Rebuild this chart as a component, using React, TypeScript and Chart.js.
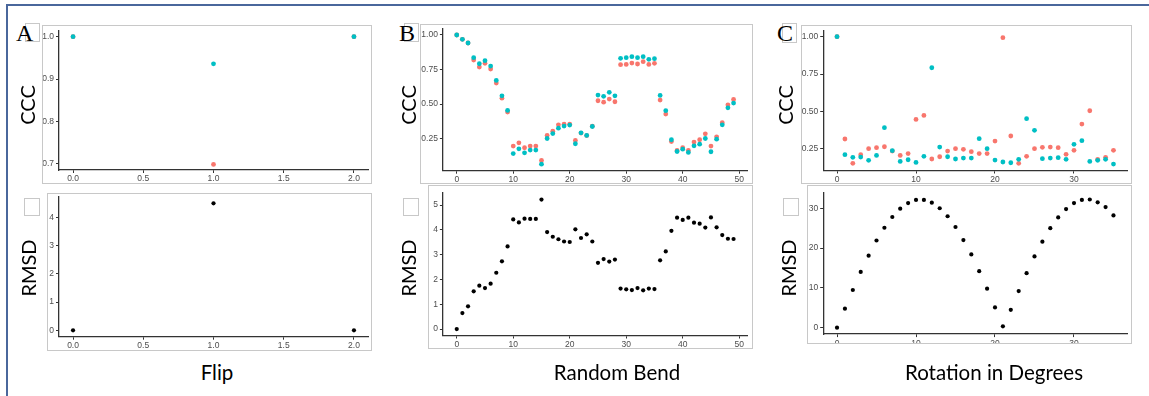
import React, { useEffect, useRef } from "react";
import { Chart, registerables } from "chart.js";
Chart.register(...registerables);

const TEAL = "#00BFC4";
const RED = "#F8766D";
const BLACK = "#000000";

// ---- Panel A: Flip ----
const flipX = [0, 1, 2];
const flipCccTeal = [1.0, 0.936, 1.0];
const flipCccRed = [1.0, 0.699, 1.0];
const flipRmsd = [0, 4.5, 0];
const flipXTicks = [0, 0.5, 1, 1.5, 2];
const flipCccTicks = [0.7, 0.8, 0.9, 1.0];
const flipRmsdTicks = [0, 1, 2, 3, 4];

// ---- Panel B: Random Bend ----
const bendCccTeal = [
  1.0, 0.969, 0.942, 0.836, 0.792, 0.814, 0.775, 0.671, 0.56, 0.454,
  0.142, 0.176, 0.147, 0.167, 0.167, 0.065, 0.251, 0.287, 0.326, 0.341,
  0.348, 0.213, 0.292, 0.273, 0.338, 0.565, 0.556, 0.585, 0.56, 0.831,
  0.836, 0.843, 0.836, 0.843, 0.824, 0.829, 0.563, 0.452, 0.242, 0.157,
  0.174, 0.15, 0.198, 0.21, 0.251, 0.155, 0.246, 0.35, 0.473, 0.507,
];
const bendCccRed = [
  1.0, 0.969, 0.942, 0.819, 0.768, 0.795, 0.754, 0.652, 0.543, 0.442,
  0.196, 0.22, 0.184, 0.196, 0.196, 0.092, 0.273, 0.304, 0.35, 0.355,
  0.355, 0.237, 0.29, 0.272, 0.34, 0.524, 0.514, 0.536, 0.517, 0.785,
  0.787, 0.797, 0.79, 0.807, 0.787, 0.795, 0.529, 0.428, 0.229, 0.164,
  0.184, 0.164, 0.225, 0.242, 0.285, 0.196, 0.263, 0.365, 0.495, 0.534,
];
const bendRmsd = [
  0, 0.645, 0.914, 1.519, 1.747, 1.653, 1.828, 2.27, 2.73, 3.33,
  4.42, 4.3, 4.45, 4.44, 4.44, 5.22, 3.91, 3.72, 3.62, 3.53,
  3.51, 4.02, 3.67, 3.82, 3.53, 2.67, 2.82, 2.72, 2.8, 1.63,
  1.6, 1.57, 1.65, 1.56, 1.63, 1.61, 2.77, 3.13, 3.96, 4.49,
  4.4, 4.49, 4.29, 4.25, 4.09, 4.5, 4.1, 3.79, 3.64, 3.63,
];
const bendXTicks = [0, 10, 20, 30, 40, 50];
const bendCccTicks = [0.25, 0.5, 0.75, 1.0];
const bendRmsdTicks = [0, 1, 2, 3, 4, 5];

// ---- Panel C: Rotation in Degrees ----
const rotCccTeal = [
  1.0, 0.21, 0.192, 0.194, 0.172, 0.205, 0.391, 0.237, 0.165, 0.176,
  0.158, 0.199, 0.792, 0.261, 0.196, 0.181, 0.187, 0.187, 0.317, 0.25,
  0.174, 0.161, 0.156, 0.179, 0.451, 0.373, 0.183, 0.187, 0.19, 0.179,
  0.279, 0.304, 0.165, 0.172, 0.179, 0.147,
];
const rotCccRed = [
  1.0, 0.315, 0.152, 0.21, 0.25, 0.257, 0.263, 0.234, 0.205, 0.217,
  0.446, 0.473, 0.181, 0.196, 0.234, 0.25, 0.246, 0.23, 0.217, 0.217,
  0.301, 0.993, 0.335, 0.152, 0.199, 0.25, 0.259, 0.261, 0.257, 0.212,
  0.239, 0.415, 0.504, 0.179, 0.192, 0.239,
];
const rotRmsd = [
  0, 4.78, 9.47, 14.0, 18.1, 21.9, 25.1, 27.8, 29.9, 31.3,
  32.1, 32.1, 31.4, 30.0, 28.0, 25.3, 22.0, 18.4, 14.2, 9.8,
  5.1, 0.34, 4.5, 9.2, 13.7, 17.9, 21.6, 25.0, 27.7, 29.8,
  31.3, 32.1, 32.2, 31.5, 30.3, 28.2,
];
const rotXTicks = [0, 10, 20, 30];
const rotCccTicks = [0.25, 0.5, 0.75, 1.0];
const rotRmsdTicks = [0, 10, 20, 30];

type Rect = { l: number; t: number; r: number; b: number };

const pts = (ys: number[], xs?: number[]) =>
  ys.map((y, i) => ({ x: xs ? xs[i] : i, y }));

const ds = (data: { x: number; y: number }[], color: string, radius = 2.4) => ({
  data,
  backgroundColor: color,
  borderColor: color,
  pointRadius: radius,
  pointBorderWidth: 0,
  showLine: false,
});

type PanelProps = {
  box: Rect;
  area: Rect;
  datasets: any[];
  xRange: [number, number];
  yRange: [number, number];
  xTicks: number[];
  yTicks: number[];
  xDec: number;
  yDec: number;
};

function Panel({ box, area, datasets, xRange, yRange, xTicks, yTicks, xDec, yDec }: PanelProps) {
  const ref = useRef<HTMLCanvasElement>(null);
  const w = box.r - box.l;
  const h = box.b - box.t;
  useEffect(() => {
    if (!ref.current) return;
    const tickFont = { family: "'Liberation Sans', Arial, sans-serif", size: 8.5 };
    const axisCommon = {
      type: "linear" as const,
      grid: {
        display: true,
        drawOnChartArea: false,
        drawTicks: true,
        tickLength: 3,
        color: "#333333",
        lineWidth: 1,
      },
      border: { display: true, color: "#333333", width: 1.3 },
    };
    const chart = new Chart(ref.current, {
      type: "scatter",
      data: { datasets },
      options: {
        responsive: false,
        animation: false,
        devicePixelRatio: 1,
        layout: {
          padding: { left: 0, top: area.t - box.t, right: box.r - area.r, bottom: 0 },
        },
        plugins: { legend: { display: false }, tooltip: { enabled: false } },
        scales: {
          x: {
            ...axisCommon,
            min: xRange[0],
            max: xRange[1],
            afterBuildTicks: (s: any) => {
              s.ticks = xTicks.map((v) => ({ value: v }));
            },
            afterFit: (s: any) => {
              s.height = box.b - area.b;
              s.paddingLeft = 0;
              s.paddingRight = 0;
            },
            ticks: {
              autoSkip: false,
              maxRotation: 0,
              padding: 1,
              color: "#4d4d4d",
              font: tickFont,
              callback: (v: any) => Number(v).toFixed(xDec),
            },
          },
          y: {
            ...axisCommon,
            min: yRange[0],
            max: yRange[1],
            afterBuildTicks: (s: any) => {
              s.ticks = yTicks.map((v) => ({ value: v }));
            },
            afterFit: (s: any) => {
              s.width = area.l - box.l;
              s.paddingTop = 0;
              s.paddingBottom = 0;
            },
            ticks: {
              autoSkip: false,
              padding: 2,
              color: "#4d4d4d",
              font: tickFont,
              callback: (v: any) => Number(v).toFixed(yDec),
            },
          },
        },
      } as any,
    });
    return () => chart.destroy();
  }, []);
  return (
    <>
      <canvas
        ref={ref}
        width={w}
        height={h}
        style={{ position: "absolute", left: box.l, top: box.t, width: w, height: h }}
      />
      <div
        style={{
          position: "absolute",
          left: box.l,
          top: box.t,
          width: w,
          height: h,
          border: "1px solid #c8c8c8",
          boxSizing: "border-box",
          pointerEvents: "none",
        }}
      />
    </>
  );
}

const titleFont = "Lato, 'Open Sans', sans-serif";

function VText({ cx, cy, text }: { cx: number; cy: number; text: string }) {
  return (
    <div
      style={{
        position: "absolute",
        left: cx,
        top: cy,
        transform: "translate(-50%, -50%) rotate(-90deg)",
        fontFamily: titleFont,
        fontSize: 20,
        color: "#000",
        whiteSpace: "nowrap",
        lineHeight: 1,
      }}
    >
      {text}
    </div>
  );
}

function HText({ cx, cy, text }: { cx: number; cy: number; text: string }) {
  return (
    <div
      style={{
        position: "absolute",
        left: cx,
        top: cy,
        transform: "translate(-50%, -50%)",
        fontFamily: titleFont,
        fontSize: 20.5,
        color: "#000",
        whiteSpace: "nowrap",
        lineHeight: 1,
      }}
    >
      {text}
    </div>
  );
}

function SmallBox({ l, t, w, h }: { l: number; t: number; w: number; h: number }) {
  return (
    <div
      style={{
        position: "absolute",
        left: l,
        top: t,
        width: w,
        height: h,
        border: "1px solid #c8c8c8",
        boxSizing: "border-box",
        background: "#fff",
      }}
    />
  );
}

function Letter({ l, t, text }: { l: number; t: number; text: string }) {
  return (
    <div
      style={{
        position: "absolute",
        left: l,
        top: t,
        fontFamily: "'Liberation Serif', 'Times New Roman', serif",
        fontSize: 24,
        lineHeight: 1,
        color: "#000",
      }}
    >
      {text}
    </div>
  );
}

export default function App() {
  return (
    <div
      style={{
        position: "absolute",
        left: 0,
        top: 0,
        width: 1149,
        height: 396,
        background: "#fff",
        overflow: "hidden",
      }}
    >
      {/* blue frame */}
      <div style={{ position: "absolute", left: 6, top: 4, width: 1143, height: 2, background: "#4a679c" }} />
      <div style={{ position: "absolute", left: 6, top: 4, width: 2, height: 392, background: "#4a679c" }} />

      {/* Panel A */}
      <SmallBox l={25} t={23} w={15} h={19} />
      <Letter l={16} t={21} text="A" />
      <Panel
        box={{ l: 42, t: 25, r: 372, b: 184 }}
        area={{ l: 59, t: 30.3, r: 368, b: 170 }}
        datasets={[ds(pts(flipCccTeal, flipX), TEAL), ds(pts(flipCccRed, flipX), RED)]}
        xRange={[-0.1, 2.1]}
        yRange={[0.6858, 1.015]}
        xTicks={flipXTicks}
        yTicks={flipCccTicks}
        xDec={1}
        yDec={1}
      />
      <SmallBox l={24} t={198} w={16} h={18} />
      <Panel
        box={{ l: 47, t: 193, r: 372, b: 351 }}
        area={{ l: 59, t: 196.8, r: 368, b: 336.7 }}
        datasets={[ds(pts(flipRmsd, flipX), BLACK, 2.1)]}
        xRange={[-0.1, 2.1]}
        yRange={[-0.225, 4.725]}
        xTicks={flipXTicks}
        yTicks={flipRmsdTicks}
        xDec={1}
        yDec={0}
      />
      <VText cx={27} cy={105} text="CCC" />
      <VText cx={28} cy={268} text="RMSD" />
      <HText cx={217} cy={372} text="Flip" />

      {/* Panel B */}
      <SmallBox l={404} t={23} w={15} h={19} />
      <Letter l={399} t={21} text="B" />
      <Panel
        box={{ l: 420, t: 24, r: 753, b: 184 }}
        area={{ l: 442.9, t: 28.5, r: 747.4, b: 170.7 }}
        datasets={[ds(pts(bendCccTeal), TEAL), ds(pts(bendCccRed), RED)]}
        xRange={[-2.45, 51.45]}
        yRange={[0.018, 1.047]}
        xTicks={bendXTicks}
        yTicks={bendCccTicks}
        xDec={0}
        yDec={2}
      />
      <SmallBox l={403} t={198} w={16} h={18} />
      <Panel
        box={{ l: 428, t: 185, r: 753, b: 349 }}
        area={{ l: 442.9, t: 193.1, r: 747.4, b: 335.5 }}
        datasets={[ds(pts(bendRmsd), BLACK, 2.1)]}
        xRange={[-2.45, 51.45]}
        yRange={[-0.261, 5.481]}
        xTicks={bendXTicks}
        yTicks={bendRmsdTicks}
        xDec={0}
        yDec={0}
      />
      <VText cx={408} cy={105} text="CCC" />
      <VText cx={408} cy={268} text="RMSD" />
      <HText cx={617} cy={372} text="Random Bend" />

      {/* Panel C */}
      <SmallBox l={782} t={23} w={15} h={20} />
      <Letter l={777} t={21} text="C" />
      <Panel
        box={{ l: 801, t: 25, r: 1132, b: 184 }}
        area={{ l: 823.2, t: 30.3, r: 1127.3, b: 170.5 }}
        datasets={[ds(pts(rotCccTeal), TEAL), ds(pts(rotCccRed), RED)]}
        xRange={[-1.75, 36.75]}
        yRange={[0.104, 1.0427]}
        xTicks={rotXTicks}
        yTicks={rotCccTicks}
        xDec={0}
        yDec={2}
      />
      <SmallBox l={783} t={198} w={16} h={18} />
      <Panel
        box={{ l: 807, t: 185, r: 1132, b: 344 }}
        area={{ l: 823.2, t: 193.1, r: 1127.3, b: 334.1 }}
        datasets={[ds(pts(rotRmsd), BLACK, 2.1)]}
        xRange={[-1.75, 36.75]}
        yRange={[-1.61, 33.81]}
        xTicks={rotXTicks}
        yTicks={rotRmsdTicks}
        xDec={0}
        yDec={0}
      />
      <VText cx={785} cy={105} text="CCC" />
      <VText cx={788} cy={268} text="RMSD" />
      <HText cx={994} cy={372} text="Rotation in Degrees" />
    </div>
  );
}
